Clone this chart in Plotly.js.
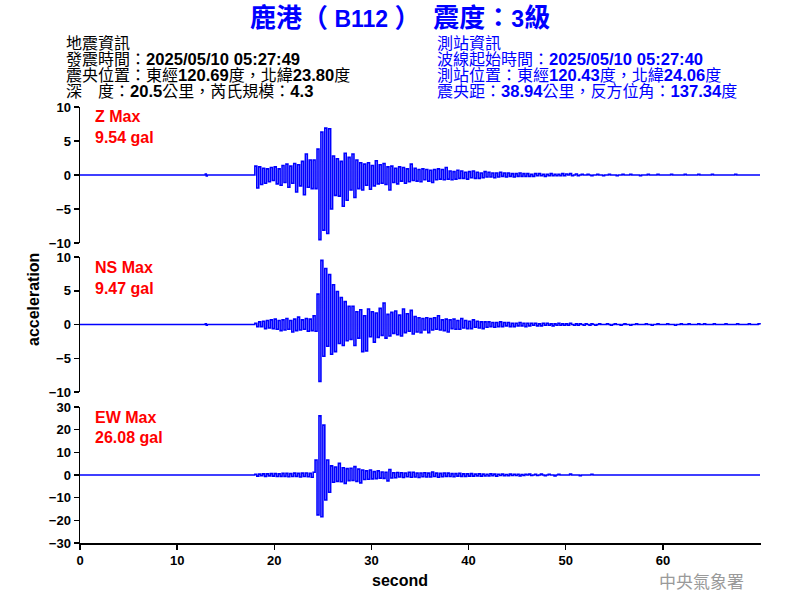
<!DOCTYPE html>
<html><head><meta charset="utf-8">
<script src="https://cdn.plot.ly/plotly-3.0.1.min.js"></script>
<style>body{margin:0;background:#fff}#chart{width:800px;height:600px}</style>
</head><body><div id="chart"></div>
<script>
// sample clock of the recorded part of the trace (seconds)
const startTime = 18.0;
const sampleStep = 0.2;

// quiet pre-event part
const preTimes = [0, 12.8, 12.9, 13.0, 13.1, 17.9];
const preZ  = [0, 0, 0.15, -0.15, 0, 0];
const preNS = [0, 0, 0.1, -0.1, 0, 0];
const preEW = [0, 0, 0, 0, 0, 0];

// Z component (gal), from 18.0 s every 0.2 s
const zValues = [
 1.3,-1.9,1.2,-1.4,1.0,-1.2,0.9,-1.0,1.1,-0.8,
 1.2,-1.3,0.9,-1.5,1.4,-1.1,1.6,-1.8,1.3,-1.2,
 1.7,-2.5,1.5,-1.6,2.0,-2.9,3.1,-1.8,2.2,-2.0,
 2.2,-2.0,3.8,-9.5,6.3,-8.1,6.9,-8.6,6.8,-5.0,
 2.8,-3.0,2.4,-3.1,2.0,-4.6,3.2,-3.7,2.6,-2.2,
 3.1,-3.3,2.2,-2.0,1.8,-2.2,1.6,-1.5,1.8,-2.1,
 1.4,-1.6,2.1,-1.3,1.5,-1.2,1.7,-1.4,1.2,-2.2,
 1.3,-1.1,1.0,-1.3,1.2,-0.9,1.1,-1.2,0.9,-1.0,
 1.6,-0.8,1.0,-0.9,0.8,-1.0,0.9,-0.7,0.8,-0.9,
 0.7,-1.1,0.8,-0.7,0.9,-0.6,0.8,-0.7,1.1,-0.6,
 0.6,-0.7,0.5,-0.6,0.7,-0.5,0.6,-0.5,0.4,-0.6,
 0.5,-0.4,0.6,-0.5,0.4,-0.5,0.3,-0.4,0.5,-0.3,
 0.4,-0.3,0.3,-0.4,0.3,-0.3,0.4,-0.2,0.3,-0.3,
 0.3,-0.2,0.2,-0.3,0.2,-0.2,0.3,-0.2,0.2,-0.2,
 0.2,-0.2,0.1,-0.2,0.2,-0.1,0.2,-0.1,0.1,-0.2,
 0.1,-0.1,0.2,-0.1,0.1,-0.1,0.1,-0.1,0.2,-0.1,
 0.15,0,0.2,-0.1,0,0.15,-0.1,0,0.1,0,
 0,0.1,0,-0.1,0,0,0.1,0,0,-0.1,
 0,0,0.1,0,0,0,-0.1,0,0,0.1,
 0,0,0,0.1,0,0,0,0,-0.1,0,
 0,0,0.1,0,0,0,0,0.1,0,0,
 0,0,0,0,0.1,0,0,0,0,0,
 0,0.1,0,0,0,0,0,0,0.1,0,
 0,0,0,0,0,0.1,0,0,0,0,
 0,0,0,0,0,0,0,0.1,0,0,
 0,0,0,0,0,0,0,0,0,0,
 0
];

// NS component (gal)
const nsValues = [
 0.2,-0.3,0.4,-0.3,0.5,-0.6,0.6,-0.5,0.7,-0.6,
 0.8,-0.7,0.6,-0.9,0.7,-0.8,0.9,-0.7,0.6,-1.1,
 0.8,-0.9,1.1,-0.8,0.7,-0.7,0.9,-1.0,0.8,-0.9,
 1.3,-1.0,4.5,-8.4,9.5,-4.7,8.3,-3.2,7.4,-4.4,
 5.9,-4.0,4.9,-2.8,4.0,-3.1,3.4,-2.4,2.7,-2.2,
 2.7,-3.1,1.9,-2.0,2.2,-4.0,1.3,-3.9,2.3,-1.8,
 1.9,-2.6,1.7,-1.9,2.4,-1.6,3.2,-2.0,1.5,-1.7,
 1.8,-1.3,2.0,-1.5,1.4,-1.7,2.3,-1.2,1.6,-1.0,
 2.1,-1.4,1.2,-1.1,1.0,-1.2,0.9,-0.8,1.0,-1.2,
 0.9,-0.8,1.0,-0.7,1.3,-0.8,0.7,-0.9,0.8,-1.1,
 0.7,-0.6,0.8,-0.7,0.6,-0.7,0.9,-0.5,0.6,-0.6,
 0.5,-0.6,0.7,-0.4,0.5,-0.5,0.4,-0.6,0.4,-0.4,
 0.4,-0.3,0.3,-0.4,0.3,-0.3,0.4,-0.3,0.3,-0.2,
 0.3,-0.3,0.2,-0.3,0.2,-0.2,0.3,-0.2,0.2,-0.3,
 0.2,-0.2,0.2,-0.1,0.2,-0.2,0.1,-0.2,0.2,-0.1,
 0.2,-0.1,0.1,-0.2,0.1,-0.1,0.2,-0.1,0.1,-0.1,
 0.1,-0.1,0.2,0,-0.1,0.1,-0.1,0.1,0,-0.1,
 0.1,0,-0.1,0.1,0,-0.1,0,0.1,0,0,
 0,0.1,0,-0.1,0,0.1,0,0,-0.1,0,
 0.1,0,0,-0.1,0,0,0.1,0,0,0,
 0,0.1,0,0,-0.1,0,0,0.1,0,0,
 0,0,0.1,0,0,0,-0.1,0,0,0.1,
 0,0,0,0.1,0,0,0,0,0.1,0,
 0,0.1,0,0,0,0,0.1,0,0,0,
 0,0,0.1,0,0,0,0,0,0.1,0,
 0,0,0,0,0.1,0,0,0,0,0.1,
 0
];

// EW component (gal)
const ewValues = [
 0.3,-0.5,0.4,-0.3,0.5,-0.6,0.5,-0.4,0.6,-0.5,
 0.6,-0.7,0.5,-0.6,0.7,-0.6,0.7,-0.8,0.6,-0.7,
 0.8,-0.6,0.7,-0.9,0.8,-0.7,0.9,-0.8,0.7,-1.0,
 1.2,6.6,-17.6,26.08,-18.4,22.0,-11.0,6.6,-7.6,4.0,
 -3.2,3.5,-2.8,5.1,-3.0,3.2,-3.7,2.8,-2.5,3.0,
 -2.4,3.7,-2.8,2.6,-3.5,2.2,-2.0,1.8,-1.9,2.2,
 -1.7,1.5,-1.6,1.8,-1.4,1.3,-1.5,1.2,-2.6,2.4,
 -1.3,1.0,-1.2,1.1,-0.9,1.0,-1.1,0.9,-0.8,1.2,
 -1.0,1.2,-0.9,0.8,-1.1,0.9,-0.8,1.0,-0.9,0.8,
 -0.9,1.3,-0.7,0.8,-1.0,0.7,-0.8,0.9,-0.6,0.8,
 -0.7,0.6,-0.8,0.6,-0.5,0.7,-0.6,0.5,-0.6,0.5,
 -0.5,0.6,-0.5,0.4,-0.4,0.5,-0.5,0.4,-0.4,0.3,
 -0.4,0.5,-0.3,0.4,-0.5,0.3,-0.2,0.4,-0.3,0.2,
 -0.3,0.4,-0.2,0.3,-0.2,0.3,-0.4,0.2,-0.2,0.3,
 0,0.4,-0.2,0,0.3,-0.2,0,0.4,0,-0.3,
 0,0.3,0,0,-0.4,0,0.3,0,0,0,
 0,0,0.4,0,0,0,0,-0.3,0,0,
 0,0,0,0.3,0,0,0,0,0,0,
 0,0,0,0,0,0,0,0,0,0,
 0,0,0,0,0,0,0,0,0,0,
 0,0,0,0,0,0,0,0,0,0,
 0,0,0,0,0,0,0,0,0,0,
 0,0,0,0,0,0,0,0,0,0,
 0,0,0,0,0,0,0,0,0,0,
 0,0,0,0,0,0,0,0,0,0,
 0,0,0,0,0,0,0,0,0,0,
 0
];

const xTicks = [0, 10, 20, 30, 40, 50, 60];
const zTicks = [-10, -5, 0, 5, 10];
const ewTicks = [-30, -20, -10, 0, 10, 20, 30];

const stationName = '鹿港', stationCode = 'B112', intensityLabel = '震度：', intensity = '3', intensityUnit = '級';
const quakeInfo = ['地震資訊', '發震時間：<B>2025/05/10 05:27:49</B>',
  '震央位置：東經<B>120.69</B>度，北緯<B>23.80</B>度', '深　度：<B>20.5</B>公里，芮氏規模：<B>4.3</B>'];
const stationInfo = ['測站資訊', '波線起始時間：<B>2025/05/10 05:27:40</B>',
  '測站位置：東經<B>120.43</B>度，北緯<B>24.06</B>度', '震央距：<B>38.94</B>公里，反方位角：<B>137.34</B>度'];
const maxLabels = [['Z Max', '9.54 gal'], ['NS Max', '9.47 gal'], ['EW Max', '26.08 gal']];

function timeAxis(n) {
  const t = preTimes.slice();
  for (let i = 0; i < n; i++) t.push(+(startTime + i * sampleStep).toFixed(2));
  return t;
}

const FONT = 'Liberation Sans, Arial, Noto Sans CJK TC, sans-serif';
const lineStyle = {color: '#0000ff', width: 1.6, shape: 'hv'};
const traces = [
  {x: timeAxis(zValues.length), y: preZ.concat(zValues), xaxis: 'x', yaxis: 'y', type: 'scatter', mode: 'lines', line: lineStyle, hoverinfo: 'skip'},
  {x: timeAxis(nsValues.length), y: preNS.concat(nsValues), xaxis: 'x', yaxis: 'y2', type: 'scatter', mode: 'lines', line: lineStyle, hoverinfo: 'skip'},
  {x: timeAxis(ewValues.length), y: preEW.concat(ewValues), xaxis: 'x', yaxis: 'y3', type: 'scatter', mode: 'lines', line: lineStyle, hoverinfo: 'skip'}
];

const tickFont = {family: FONT, size: 13, color: '#000', weight: 'bold'};
function yAx(domain, range, ticks) {
  return {domain: domain, range: range, tickvals: ticks, anchor: 'x', showline: true, linecolor: '#000', linewidth: 1.5,
    ticks: 'outside', ticklen: 5, tickwidth: 1.5, tickcolor: '#000', showgrid: false, zeroline: false, tickfont: tickFont, fixedrange: true};
}

const ann = [];
function P(px, py) { return [(px - 80) / 681, (543 - py) / 436]; }
function addText(text, px, py, opts) {
  const p = P(px, py);
  ann.push(Object.assign({xref: 'paper', yref: 'paper', x: p[0], y: p[1], text: text, showarrow: false,
    xanchor: 'left', yanchor: 'middle', font: {family: FONT, size: 16, color: '#000'}}, opts || {}));
}
const big = s => '<span style="font-size:26px">' + s + '</span>';
const titleHtml = '<b>' + big(stationName + '（') + ' ' + stationCode + ' ' + big('）') + '\u00a0\u00a0' +
  big(intensityLabel) + intensity + big(intensityUnit) + '</b>';
addText(titleHtml, 400, 18, {xanchor: 'center', font: {family: FONT, size: 23, color: '#0000ff'}});

// info blocks: one text each; base size sets the 16 px line pitch, spans set glyph size
const boldNum = s => s.replace(/<B>/g, '<span style="font-weight:bold;font-size:16.6px">').replace(/<\/B>/g, '</span>');
const block = lines => lines.map(s => '<span style="font-size:16px">' + boldNum(s) + '</span>').join('<br>');
addText(block(quakeInfo), 64, 68, {align: 'left', font: {family: FONT, size: 12.3, color: '#000'}});
addText(block(stationInfo), 435, 68, {align: 'left', font: {family: FONT, size: 12.3, color: '#0000ff'}});

const maxY = [[117, 137], [267, 288], [417, 437]];
maxLabels.forEach((m, i) => {
  addText('<b>' + m[0] + '</b>', 93, maxY[i][0], {font: {family: FONT, size: 16, color: '#ff0000'}});
  addText('<b>' + m[1] + '</b>', 93, maxY[i][1], {font: {family: FONT, size: 16, color: '#ff0000'}});
});
addText('<b>acceleration</b>', 33, 300, {xanchor: 'center', textangle: -90, font: {family: FONT, size: 16, color: '#000'}});
addText('<b>second</b>', 400, 580, {xanchor: 'center', font: {family: FONT, size: 16, color: '#000'}});
addText('中央氣象署', 701, 580, {xanchor: 'center', font: {family: 'Noto Sans CJK TC, sans-serif', size: 17, color: '#9a9a9a'}});

const layout = {
  width: 800, height: 600, margin: {l: 80, r: 39, t: 107, b: 57},
  paper_bgcolor: '#fff', plot_bgcolor: '#fff', showlegend: false,
  xaxis: {range: [0, 70.1], domain: [0, 1], anchor: 'y3', tickvals: xTicks, showline: true, linecolor: '#000', linewidth: 1.5,
    ticks: 'outside', ticklen: 5, tickwidth: 1.5, tickcolor: '#000', showgrid: false, zeroline: false, tickfont: tickFont, fixedrange: true},
  yaxis: yAx([0.688, 1], [-10, 10], zTicks),
  yaxis2: yAx([0.346, 0.656], [-10, 10], zTicks),
  yaxis3: yAx([0, 0.312], [-30, 30], ewTicks),
  annotations: ann
};
Plotly.newPlot('chart', traces, layout, {staticPlot: true, displayModeBar: false});
</script></body></html>
